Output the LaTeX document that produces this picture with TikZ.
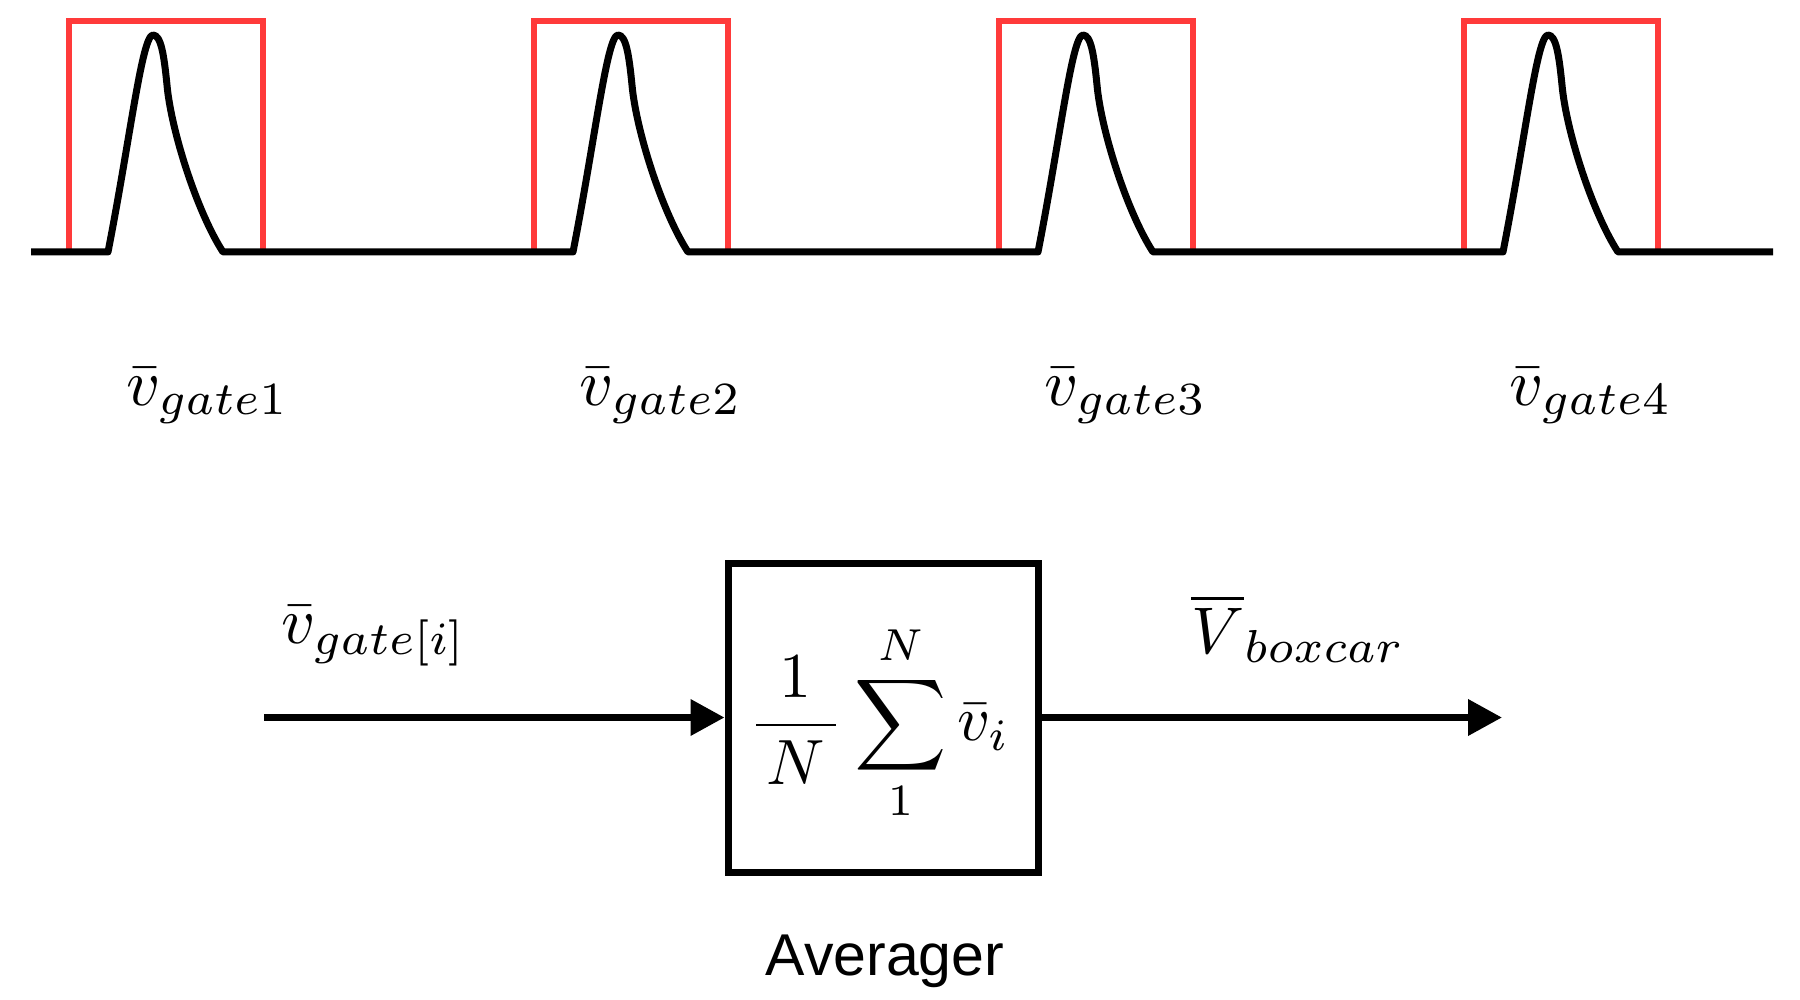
\documentclass[tikz,border=0pt]{standalone}
\usepackage{fontspec}
\newfontfamily\arialfont{Liberation Sans}
\usetikzlibrary{arrows.meta}
\definecolor{gatered}{RGB}{255,58,58}
\tikzset{
  pulse/.style={line width=3.5pt, black, line join=round},
  gate/.style={line width=2.8pt, gatered},
  lbl/.style={anchor=base west, inner sep=0pt, scale=3.3},
  conn/.style={line width=3.5pt, -{Triangle[length=17pt,width=17.5pt]}},
  avgbox/.style={draw, line width=3.5pt, minimum width=155pt, minimum height=154.5pt, inner sep=0pt}
}
\begin{document}
\begin{tikzpicture}[x=0.5pt,y=-0.5pt]
\useasboundingbox (0,0) rectangle (1800,1000);
% gate windows
\foreach \o in {0,465,930,1395}{
  \draw[gate] (69+\o,252) -- (69+\o,21) -- (263+\o,21) -- (263+\o,252);
}
% signal
\draw[pulse] (31,252)
  foreach \o in {0,465,930,1395}{
    -- (108+\o,252) .. controls (130+\o,140) and (142+\o,35) .. (153+\o,35)
    .. controls (161+\o,35) and (164+\o,55) .. (167+\o,85)
    .. controls (171+\o,130) and (197+\o,212) .. (223+\o,252)
  } -- (1773,252);
% gate labels
\node[lbl] (g1) at (125,405) {$\bar{v}_{gate1}$};
\node[lbl] (g2) at (578,405) {$\bar{v}_{gate2}$};
\node[lbl] (g3) at (1043,405) {$\bar{v}_{gate3}$};
\node[lbl] (g4) at (1508,405) {$\bar{v}_{gate4}$};
% averager
\node[avgbox] (box) at (883,717.5) {};
\node[inner sep=0pt, scale=3.2] (sum) at (879,723) {$\displaystyle \frac{1}{\mkern3mu N\mkern3mu}\sum_{1}^{N}\bar{v}_i$};
\node[anchor=base, inner sep=0pt] (avg) at (885,975) {\arialfont\fontsize{29.5}{35}\selectfont Averager};
\coordinate (in) at (264,717.5);
\coordinate (out) at (1502,717.5);
\draw[conn] (in) -- (box.west);
\draw[conn] (box.east) -- (out);
\node[lbl] (inl) at (280,643) {$\bar{v}_{gate[i]}$};
\node[lbl] (outl) at (1190,653) {$\overline{V}_{boxcar}$};
\end{tikzpicture}
\end{document}
